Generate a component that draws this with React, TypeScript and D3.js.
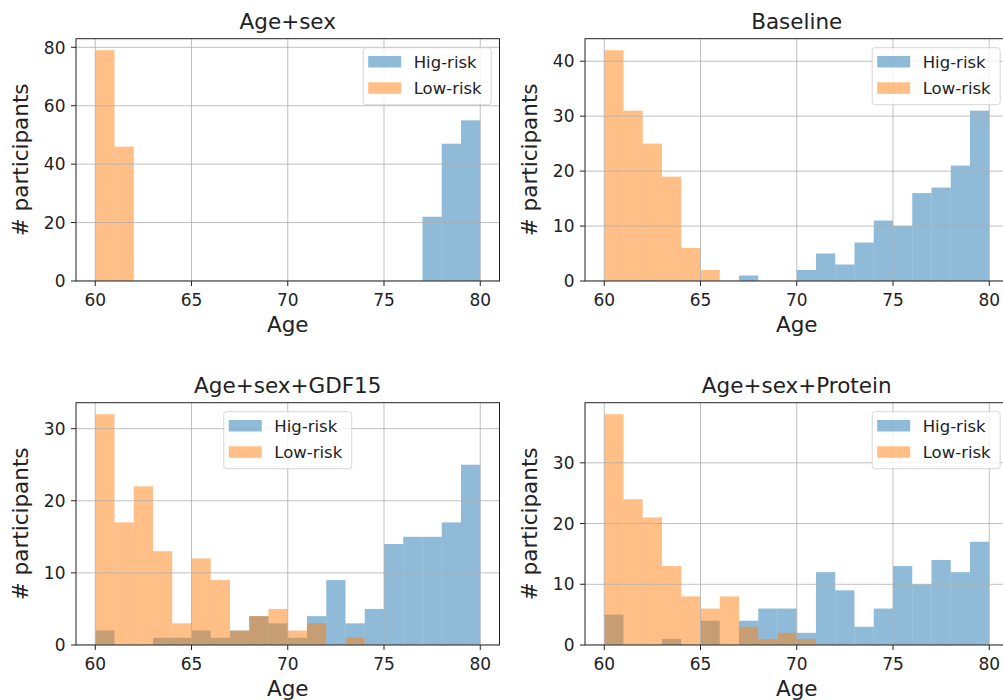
import React from "react";
import * as d3 from "d3";

// ---- data ----
const BIN_STARTS = [60, 61, 62, 63, 64, 65, 66, 67, 68, 69, 70, 71, 72, 73, 74, 75, 76, 77, 78, 79];
const BIN_WIDTH = 1;
const X_TICKS = [60, 65, 70, 75, 80];
const SERIES_LABELS = ["Hig-risk", "Low-risk"];
const SERIES_COLORS = ["#1f77b4", "#ff7f0e"];
const TITLES = ["Age+sex", "Baseline", "Age+sex+GDF15", "Age+sex+Protein"];

const HIGH_AGESEX = [0, 0, 0, 0, 0, 0, 0, 0, 0, 0, 0, 0, 0, 0, 0, 0, 0, 22, 47, 55];
const LOW_AGESEX = [79, 46, 0, 0, 0, 0, 0, 0, 0, 0, 0, 0, 0, 0, 0, 0, 0, 0, 0, 0];

const HIGH_BASELINE = [0, 0, 0, 0, 0, 0, 0, 1, 0, 0, 2, 5, 3, 7, 11, 10, 16, 17, 21, 31];
const LOW_BASELINE = [42, 31, 25, 19, 6, 2, 0, 0, 0, 0, 0, 0, 0, 0, 0, 0, 0, 0, 0, 0];

const HIGH_GDF15 = [2, 0, 0, 1, 1, 2, 1, 2, 4, 3, 1, 4, 9, 3, 5, 14, 15, 15, 17, 25];
const LOW_GDF15 = [32, 17, 22, 13, 3, 12, 9, 2, 4, 5, 2, 3, 0, 1, 0, 0, 0, 0, 0, 0];

const HIGH_PROTEIN = [5, 0, 0, 1, 0, 4, 0, 4, 6, 6, 2, 12, 9, 3, 6, 13, 10, 14, 12, 17];
const LOW_PROTEIN = [38, 24, 21, 13, 8, 6, 8, 3, 1, 2, 1, 0, 0, 0, 0, 0, 0, 0, 0, 0];

const Y_TICKS_AGESEX = [0, 20, 40, 60, 80];
const Y_TICKS_BASELINE = [0, 10, 20, 30, 40];
const Y_TICKS_GDF15 = [0, 10, 20, 30];
const Y_TICKS_PROTEIN = [0, 10, 20, 30];

const LEGEND_LOCS = ["upper right", "upper right", "upper center", "upper right"];

// ---- layout ----
const FONT = "DejaVu Sans, sans-serif";
const AX_W = 423.5;
const AX_H = 242.3;
const AX_LEFTS = [76, 585];
const AX_TOPS = [38.7, 402.7];

type PanelProps = {
  left: number;
  top: number;
  title: string;
  high: number[];
  low: number[];
  yTicks: number[];
  legendLoc: string;
};

function Panel({ left, top, title, high, low, yTicks, legendLoc }: PanelProps) {
  const x = d3
    .scaleLinear()
    .domain([BIN_STARTS[0] - 1, BIN_STARTS[BIN_STARTS.length - 1] + BIN_WIDTH + 1])
    .range([left, left + AX_W]);
  const maxV = d3.max([...high, ...low]) as number;
  const y = d3
    .scaleLinear()
    .domain([0, maxV * 1.05])
    .range([top + AX_H, top]);
  const bottom = top + AX_H;
  const right = left + AX_W;
  const series = [high, low];

  const legW = 128;
  const legH = 57;
  const legX = legendLoc === "upper center" ? (left + right) / 2 - legW / 2 : right - 8.3 - legW;
  const legY = top + 9;

  return (
    <g>
      <defs>
        <clipPath id={`clip-${left}-${top}`}>
          <rect x={left} y={top} width={AX_W} height={AX_H} />
        </clipPath>
      </defs>
      <g clipPath={`url(#clip-${left}-${top})`}>
        {series.map((vals, si) =>
          vals.map((v, i) =>
            v > 0 ? (
              <rect
                key={`${si}-${i}`}
                x={x(BIN_STARTS[i])}
                y={y(v)}
                width={x(BIN_STARTS[i] + BIN_WIDTH) - x(BIN_STARTS[i])}
                height={y(0) - y(v)}
                fill={SERIES_COLORS[si]}
                fillOpacity={0.5}
              />
            ) : null
          )
        )}
        {X_TICKS.map((t) => (
          <line key={`gx${t}`} x1={x(t)} x2={x(t)} y1={top} y2={bottom} stroke="#b0b0b0" strokeWidth={1} strokeOpacity={0.8} />
        ))}
        {yTicks.map((t) => (
          <line key={`gy${t}`} x1={left} x2={right} y1={y(t)} y2={y(t)} stroke="#b0b0b0" strokeWidth={1} strokeOpacity={0.8} />
        ))}
      </g>
      <rect x={left} y={top} width={AX_W} height={AX_H} fill="none" stroke="#222" strokeWidth={1} />
      {X_TICKS.map((t) => (
        <g key={`tx${t}`}>
          <line x1={x(t)} x2={x(t)} y1={bottom} y2={bottom + 5} stroke="#222" strokeWidth={1} />
          <text x={x(t)} y={bottom + 24.5} textAnchor="middle" fontSize={17} fontFamily={FONT} fill="#222">
            {t}
          </text>
        </g>
      ))}
      {yTicks.map((t) => (
        <g key={`ty${t}`}>
          <line x1={left - 5} x2={left} y1={y(t)} y2={y(t)} stroke="#222" strokeWidth={1} />
          <text x={left - 10.5} y={y(t) + 6.2} textAnchor="end" fontSize={17} fontFamily={FONT} fill="#222">
            {t}
          </text>
        </g>
      ))}
      <text x={(left + right) / 2} y={top - 9.4} textAnchor="middle" fontSize={21.5} fontFamily={FONT} fill="#222">
        {title}
      </text>
      <text x={(left + right) / 2} y={bottom + 51} textAnchor="middle" fontSize={21.5} fontFamily={FONT} fill="#222">
        Age
      </text>
      <text
        transform={`translate(${left - 48},${(top + bottom) / 2}) rotate(-90)`}
        textAnchor="middle"
        fontSize={21.5}
        fontFamily={FONT}
        fill="#222"
      >
        # participants
      </text>
      <g>
        <rect x={legX} y={legY} width={legW} height={legH} rx={3} fill="#fff" fillOpacity={0.8} stroke="#cccccc" strokeOpacity={0.8} strokeWidth={1} />
        {SERIES_LABELS.map((lab, i) => (
          <g key={lab}>
            <rect x={legX + 5} y={legY + 8.3 + i * 26.3} width={33} height={11.5} fill={SERIES_COLORS[i]} fillOpacity={0.5} />
            <text x={legX + 50.5} y={legY + 19.8 + i * 26.3} fontSize={16.5} fontFamily={FONT} fill="#222">
              {lab}
            </text>
          </g>
        ))}
      </g>
    </g>
  );
}

const PANELS = [
  { title: TITLES[0], high: HIGH_AGESEX, low: LOW_AGESEX, yTicks: Y_TICKS_AGESEX },
  { title: TITLES[1], high: HIGH_BASELINE, low: LOW_BASELINE, yTicks: Y_TICKS_BASELINE },
  { title: TITLES[2], high: HIGH_GDF15, low: LOW_GDF15, yTicks: Y_TICKS_GDF15 },
  { title: TITLES[3], high: HIGH_PROTEIN, low: LOW_PROTEIN, yTicks: Y_TICKS_PROTEIN },
];

export default function App() {
  return (
    <svg
      width={1003}
      height={700}
      style={{ position: "absolute", left: 0, top: 0, background: "#fff" }}
    >
      <rect x={0} y={0} width={1003} height={700} fill="#fff" />
      {PANELS.map((p, i) => (
        <Panel
          key={p.title}
          left={AX_LEFTS[i % 2]}
          top={AX_TOPS[Math.floor(i / 2)]}
          title={p.title}
          high={p.high}
          low={p.low}
          yTicks={p.yTicks}
          legendLoc={LEGEND_LOCS[i]}
        />
      ))}
    </svg>
  );
}
